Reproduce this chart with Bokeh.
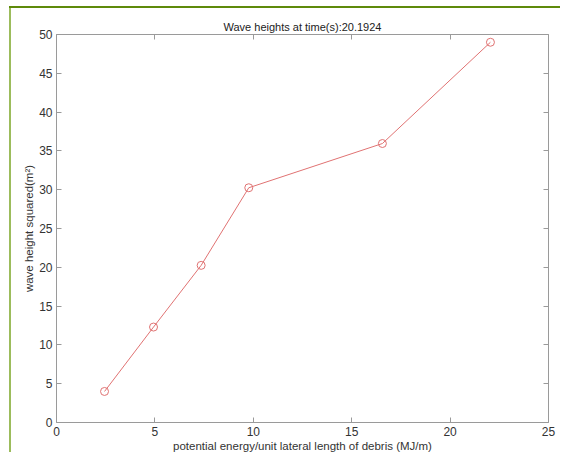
from bokeh.plotting import figure
from bokeh.models import LinearAxis, Range1d, FixedTicker, CustomJSTickFormatter
from bokeh.embed import file_html
from bokeh.resources import INLINE

# data
energy = [2.44, 4.93, 7.35, 9.77, 16.56, 22.05]
height_sq = [4.0, 12.3, 20.25, 30.25, 35.95, 49.0]
x_ticks = [0, 5, 10, 15, 20, 25]
y_ticks = [0, 5, 10, 15, 20, 25, 30, 35, 40, 45, 50]

FONT = "Liberation Sans"
LINE = "#e07272"
AXIS = "#9a9a9a"

p = figure(frame_width=492, frame_height=388, output_backend="svg", toolbar_location=None,
           x_range=Range1d(0, 25), y_range=Range1d(0, 50),
           min_border_left=56, min_border_right=12, min_border_top=34, min_border_bottom=28,
           title="Wave heights at time(s):20.1924")
p.border_fill_color = None
p.background_fill_color = "white"
p.styles = {
    "background": ("linear-gradient(#5e8a0a,#5e8a0a) 9px 6px / 100% 2px no-repeat, "
                   "linear-gradient(#9cbc5c,#9cbc5c) 9px 6px / 2px 100% no-repeat, white"),
}

p.title.align = "center"
p.title.text_font = FONT
p.title.text_font_size = "11px"
p.title.text_font_style = "normal"
p.title.text_color = "#222222"
p.title.offset = 0
p.title.standoff = 3

p.xgrid.visible = False
p.ygrid.visible = False
p.outline_line_color = None

p.xaxis.axis_label = "potential energy/unit lateral length of debris (MJ/m)"
p.yaxis.axis_label = "wave height squared(m\u00b2)"

p.xaxis.ticker = FixedTicker(ticks=x_ticks)
p.yaxis.ticker = FixedTicker(ticks=y_ticks)

blank = CustomJSTickFormatter(code="return ''")
top = LinearAxis(ticker=FixedTicker(ticks=x_ticks), formatter=blank)
right = LinearAxis(ticker=FixedTicker(ticks=y_ticks), formatter=blank)
p.add_layout(top, "above")
p.add_layout(right, "right")

for ax in p.xaxis + p.yaxis:
    ax.axis_line_color = AXIS
    ax.major_tick_line_color = AXIS
    ax.major_tick_in = 5
    ax.major_tick_out = 0
    ax.minor_tick_line_color = None
    ax.major_label_text_font = FONT
    ax.major_label_text_font_size = "12px"
    ax.major_label_text_color = "#333333"
    ax.major_label_standoff = 4
    ax.axis_label_text_font = FONT
    ax.axis_label_text_font_size = "11.5px"
    ax.axis_label_text_font_style = "normal"
    ax.axis_label_text_color = "#333333"
    ax.axis_label_standoff = 1

p.xaxis[0].major_label_standoff = 2
p.xaxis[0].axis_label_standoff = 0

for ax in (top, right):
    ax.major_label_standoff = 0

p.line(energy, height_sq, line_color=LINE, line_width=1)
p.scatter(energy, height_sq, marker="circle", size=8, fill_color=None,
          line_color=LINE, line_width=1)

open("out.html", "w").write(file_html(p, INLINE))
